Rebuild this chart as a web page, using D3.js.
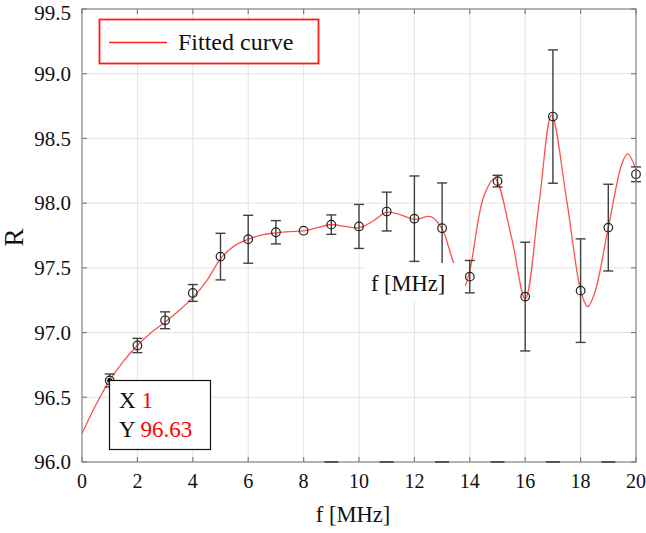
<!DOCTYPE html>
<html><head><meta charset="utf-8">
<script src="https://cdn.jsdelivr.net/npm/d3@7"></script>
<style>
html,body{margin:0;padding:0;background:#fff;}
svg text{font-family:'Liberation Serif','Times New Roman',Times,'DejaVu Serif',serif;}
</style></head>
<body>
<svg id="chart" width="646" height="533" font-family="Liberation Serif, Times New Roman, Times, DejaVu Serif, serif"></svg>
<script>
// measured data points
const freq = [1,2,3,4,5,6,7,8,9,10,11,12,13,14,15,16,17,18,19,20];
const rValues = [96.63,96.90,97.095,97.306,97.587,97.721,97.775,97.787,97.834,97.82,97.935,97.88,97.806,97.432,98.17,97.278,98.669,97.324,97.811,98.223];
const rErrors = [0.05,0.055,0.065,0.065,0.18,0.185,0.09,0.01,0.075,0.17,0.15,0.33,0.35,0.125,0.045,0.42,0.515,0.40,0.335,0.057];
// fitted curve knots
const fitX = [0,0.5,1,1.5,2,2.5,3,3.5,4,4.5,5,5.5,6,6.5,7,7.5,8,8.5,9,9.5,10,10.5,11,11.5,12,12.6,13,13.4,13.8,14,14.5,14.9,15.5,16,16.5,16.95,17.5,18,18.25,18.5,19,19.5,19.7,20];
const fitY = [96.22,96.44,96.63,96.78,96.90,97.00,97.08,97.17,97.27,97.40,97.57,97.67,97.72,97.755,97.77,97.78,97.785,97.81,97.835,97.82,97.81,97.86,97.93,97.91,97.875,97.896,97.80,97.55,97.36,97.48,98.05,98.19,97.74,97.26,98.0,98.68,98.02,97.33,97.20,97.30,97.81,98.31,98.38,98.26];
const xTicks = [0,2,4,6,8,10,12,14,16,18,20];
const yTicks = [96.0,96.5,97.0,97.5,98.0,98.5,99.0,99.5];
const oddMarks = [9,11,13,15,17,19];
const tipX = 1, tipY = 96.63;

const FONT = "Liberation Serif, Times New Roman, Times, DejaVu Serif, serif";
const svg = d3.select("#chart");
const L=82, R=636, T=9, B=462;
const x = d3.scaleLinear().domain([0,20]).range([L,R]);
const y = d3.scaleLinear().domain([96,99.5]).range([B,T]);

// grid
const g = svg.append("g");
g.selectAll("line.vg").data(xTicks.slice(1,-1)).join("line")
  .attr("x1",d=>x(d)).attr("x2",d=>x(d)).attr("y1",T).attr("y2",B)
  .attr("stroke","#e4e4e4").attr("stroke-width",1);
g.selectAll("line.hg").data(yTicks.slice(1,-1)).join("line")
  .attr("y1",d=>y(d)).attr("y2",d=>y(d)).attr("x1",L).attr("x2",R)
  .attr("stroke","#e4e4e4").attr("stroke-width",1);

// clip
svg.append("clipPath").attr("id","clip").append("rect").attr("x",L).attr("y",T).attr("width",R-L).attr("height",B-T);

// fitted curve
const line = d3.line().x((d,i)=>x(fitX[i])).y(d=>y(d)).curve(d3.curveCatmullRom.alpha(0.5));
svg.append("path").datum(fitY).attr("d",line).attr("fill","none")
  .attr("stroke","#ff5050").attr("stroke-width",1.3).attr("clip-path","url(#clip)");

// error bars
const eb = svg.append("g").attr("stroke","#404040").attr("stroke-width",1.4);
freq.forEach((f,i)=>{
  const v=rValues[i], e=rErrors[i];
  if (e>0.02) {
    eb.append("line").attr("x1",x(f)).attr("x2",x(f)).attr("y1",y(v+e)).attr("y2",y(v-e));
    [v+e,v-e].forEach(t=>eb.append("line").attr("x1",x(f)-5).attr("x2",x(f)+5).attr("y1",y(t)).attr("y2",y(t)));
  }
});
svg.append("g").selectAll("circle").data(freq).join("circle")
  .attr("cx",d=>x(d)).attr("cy",(d,i)=>y(rValues[i])).attr("r",4.3)
  .attr("fill","none").attr("stroke","#222").attr("stroke-width",1.2);

// in-plot label with white background
svg.append("rect").attr("x",365).attr("y",263).attr("width",100).attr("height",37).attr("fill","#fff");
svg.append("text").attr("x",371).attr("y",291).attr("font-family",FONT).attr("font-size",22.5).attr("fill","#111").text("f [MHz]");

// axes frame
const ax = svg.append("g").attr("stroke","#808080").attr("stroke-width",1.2).attr("fill","none");
ax.append("rect").attr("x",L).attr("y",T).attr("width",R-L).attr("height",B-T);
xTicks.forEach(t=>{
  ax.append("line").attr("x1",x(t)).attr("x2",x(t)).attr("y1",B).attr("y2",B-5);
  ax.append("line").attr("x1",x(t)).attr("x2",x(t)).attr("y1",T).attr("y2",T+5);
});
yTicks.forEach(t=>{
  ax.append("line").attr("y1",y(t)).attr("y2",y(t)).attr("x1",L).attr("x2",L+5);
  ax.append("line").attr("y1",y(t)).attr("y2",y(t)).attr("x1",R).attr("x2",R-5);
});
svg.append("g").selectAll("line").data(oddMarks).join("line")
  .attr("x1",d=>x(d)-7).attr("x2",d=>x(d)+7).attr("y1",B).attr("y2",B)
  .attr("stroke","#555").attr("stroke-width",2);

// tick labels
svg.append("g").selectAll("text").data(xTicks).join("text")
  .attr("x",d=>x(d)).attr("y",488).attr("text-anchor","middle").attr("font-family",FONT).attr("font-size",20).attr("fill","#111")
  .text(d=>d);
svg.append("g").selectAll("text").data(yTicks).join("text")
  .attr("x",71).attr("y",(d,i)=>y(d)+(i===yTicks.length-1?4:0)).attr("dy","0.35em").attr("text-anchor","end").attr("font-family",FONT).attr("font-size",21).attr("fill","#111")
  .text(d=>d.toFixed(1));

// axis titles
svg.append("text").attr("x",353).attr("y",522).attr("text-anchor","middle").attr("font-family",FONT).attr("font-size",22.5).attr("fill","#111").text("f [MHz]");
svg.append("text").attr("transform","translate(23,237.5) rotate(-90)").attr("text-anchor","middle").attr("font-family",FONT).attr("font-size",27).attr("fill","#111").text("R");

// data tip
svg.append("circle").attr("cx",x(tipX)).attr("cy",y(tipY)).attr("r",3).attr("fill","#111").attr("stroke","#e8e0a0").attr("stroke-width",1);
svg.append("rect").attr("x",109.5).attr("y",380.5).attr("width",101).attr("height",69).attr("fill","#fff").attr("stroke","#111").attr("stroke-width",1.2);
const t1 = svg.append("text").attr("x",119).attr("y",408).attr("font-family",FONT).attr("font-size",23).attr("fill","#111");
t1.append("tspan").text("X ");
t1.append("tspan").attr("fill","#ff0000").text(tipX);
const t2 = svg.append("text").attr("x",119).attr("y",437).attr("font-family",FONT).attr("font-size",23).attr("fill","#111");
t2.append("tspan").text("Y ");
t2.append("tspan").attr("fill","#ff0000").text(tipY.toFixed(2));

// legend
svg.append("rect").attr("x",99.5).attr("y",19.5).attr("width",219).attr("height",44).attr("fill","#fff").attr("stroke","#ff1a1a").attr("stroke-width",1.8);
svg.append("line").attr("x1",109).attr("x2",167).attr("y1",42.5).attr("y2",42.5).attr("stroke","#ff2020").attr("stroke-width",1.4);
svg.append("text").attr("x",178).attr("y",50).attr("font-family",FONT).attr("font-size",24).attr("fill","#111").text("Fitted curve");
</script>
</body></html>
